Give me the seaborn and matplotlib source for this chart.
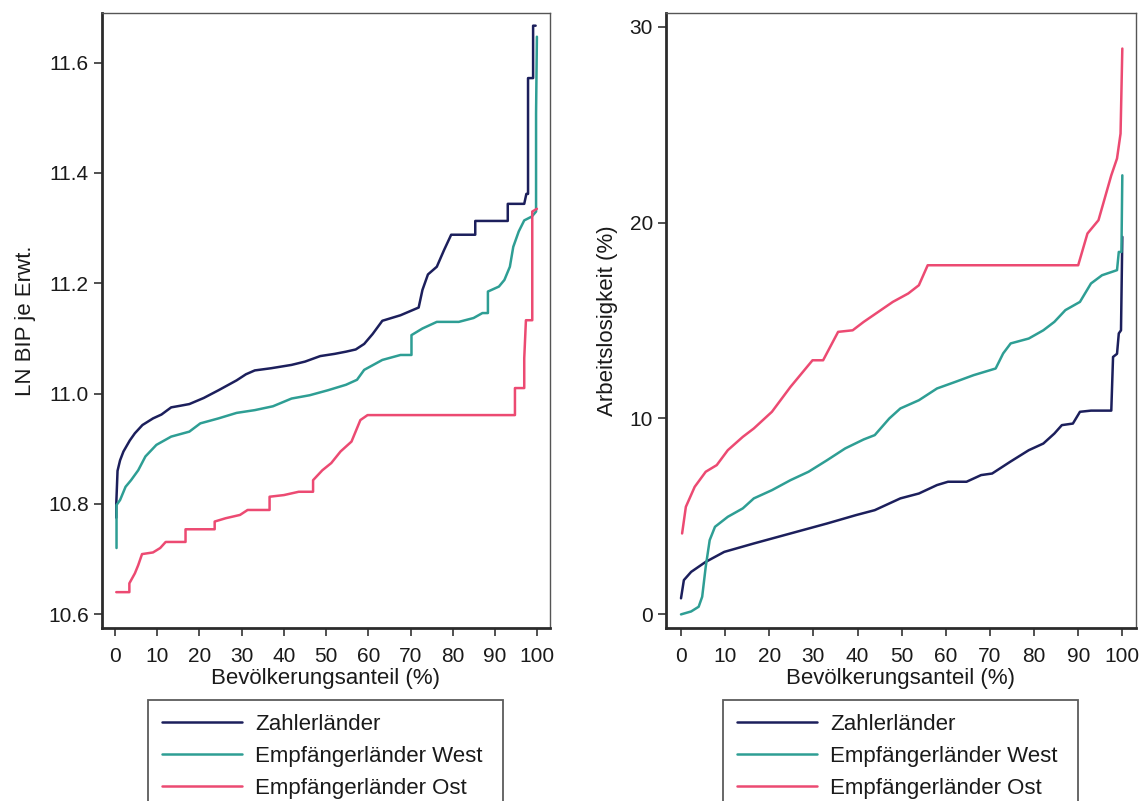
import numpy as np
import pandas as pd
import matplotlib
matplotlib.use("Agg")
import matplotlib.pyplot as plt
from matplotlib.lines import Line2D
import seaborn as sns

# ---------------- data ----------------
groups = ["Zahlerländer", "Empfängerländer West", "Empfängerländer Ost"]
colors = ["#1c1f5c", "#2e9e94", "#ec4a72"]

# Left panel: LN BIP je Erwt.
gdp_zahler_x = [0.3, 0.3, 0.6, 1.2, 2.0, 3.5, 4.7, 6.5, 9.0, 11.0, 13.3, 15.5, 17.6, 21.0, 24.5,
                28.8, 31.0, 33.1, 37.0, 41.8, 45.0, 48.6, 52.0, 54.7, 57.0, 59.0, 61.0, 63.3, 67.6, 71.9,
                72.8, 74.1, 76.2, 77.9, 79.6, 85.3, 85.3, 93.0, 93.0, 96.9, 97.4, 97.8, 97.8, 99.0, 99.0, 99.6]
gdp_zahler_y = [10.775, 10.80, 10.86, 10.879, 10.895, 10.915, 10.928, 10.943, 10.955, 10.962, 10.975, 10.978,
                10.981, 10.992, 11.006, 11.024, 11.035, 11.042, 11.046, 11.052, 11.058, 11.068, 11.072, 11.076,
                11.08, 11.09, 11.108, 11.132, 11.142, 11.156, 11.188, 11.216, 11.23, 11.26, 11.288, 11.288,
                11.313, 11.313, 11.344, 11.344, 11.362, 11.362, 11.572, 11.572, 11.667, 11.667]

gdp_west_x = [0.36, 0.36, 1.2, 2.5, 3.8, 5.5, 7.2, 9.8, 13.3, 17.6, 20.2, 24.5, 28.8, 33.1, 37.4,
              41.8, 46.1, 50.4, 54.7, 57.3, 59.0, 63.3, 67.6, 70.2, 70.2, 72.8, 76.2, 81.4, 84.9, 87.0,
              88.3, 88.3, 90.9, 92.2, 93.5, 94.3, 95.6, 96.9, 98.7, 99.7, 99.7, 99.9]
gdp_west_y = [10.72, 10.798, 10.807, 10.831, 10.843, 10.861, 10.886, 10.907, 10.922, 10.931, 10.946, 10.955,
              10.965, 10.97, 10.977, 10.991, 10.997, 11.006, 11.016, 11.025, 11.043, 11.061, 11.07, 11.07,
              11.106, 11.118, 11.13, 11.13, 11.137, 11.146, 11.146, 11.185, 11.194, 11.206, 11.23, 11.266,
              11.294, 11.314, 11.321, 11.33, 11.508, 11.647]

gdp_ost_x = [0.3, 3.4, 3.4, 4.7, 5.5, 6.4, 9.0, 10.7, 12.0, 16.7, 16.7, 23.6, 23.6, 26.2, 29.6,
             31.4, 36.6, 36.6, 40.0, 43.5, 46.9, 46.9, 49.1, 51.2, 53.4, 56.0, 58.1, 59.8, 94.7, 94.7,
             96.9, 96.9, 97.3, 98.8, 98.8, 99.9]
gdp_ost_y = [10.64, 10.64, 10.656, 10.674, 10.689, 10.709, 10.712, 10.72, 10.731, 10.731, 10.754, 10.754,
             10.768, 10.774, 10.78, 10.789, 10.789, 10.813, 10.816, 10.822, 10.822, 10.843, 10.861, 10.874,
             10.895, 10.913, 10.952, 10.961, 10.961, 11.01, 11.01, 11.064, 11.133, 11.133, 11.33, 11.335]

# Right panel: Arbeitslosigkeit (%)
ue_zahler_x = [0.0, 0.65, 2.3, 5.6, 9.8, 16.5, 24.8, 33.1, 39.7, 43.9, 49.7, 53.9, 58.0, 60.5, 64.7,
               68.0, 70.5, 74.6, 78.8, 82.1, 84.6, 86.3, 88.8, 90.4, 92.9, 97.5, 97.9, 98.8, 99.2, 99.7, 100.0]
ue_zahler_y = [0.82, 1.75, 2.17, 2.68, 3.19, 3.62, 4.13, 4.64, 5.07, 5.32, 5.92, 6.17, 6.60, 6.77, 6.77,
               7.11, 7.19, 7.79, 8.38, 8.72, 9.23, 9.66, 9.74, 10.34, 10.4, 10.4, 13.14, 13.3, 14.34, 14.5, 19.27]

ue_west_x = [0.0, 2.3, 4.0, 4.8, 5.6, 6.5, 7.7, 10.6, 14.0, 16.5, 20.6, 24.8, 28.9, 33.1, 37.2,
             41.4, 43.9, 47.2, 49.7, 53.9, 58.0, 62.2, 66.3, 71.3, 73.0, 74.7, 78.8, 82.1, 84.6, 87.1,
             90.4, 92.9, 95.4, 98.8, 99.2, 99.8, 100.0]
ue_west_y = [0.0, 0.15, 0.39, 0.9, 2.43, 3.79, 4.47, 4.98, 5.41, 5.92, 6.34, 6.85, 7.28, 7.87, 8.47,
             8.93, 9.15, 10.0, 10.51, 10.93, 11.53, 11.87, 12.21, 12.55, 13.32, 13.83, 14.08, 14.5, 14.93,
             15.53, 15.95, 16.89, 17.31, 17.57, 18.5, 18.5, 22.41]

ue_ost_x = [0.25, 1.1, 3.1, 5.6, 8.1, 10.6, 14.0, 16.5, 20.6, 24.8, 29.8, 32.2, 35.6, 38.9, 41.4,
            44.7, 48.0, 51.5, 53.9, 55.9, 90.0, 92.1, 94.6, 97.5, 98.8, 99.6, 100.0]
ue_ost_y = [4.13, 5.49, 6.51, 7.28, 7.62, 8.38, 9.06, 9.49, 10.34, 11.61, 12.97, 12.97, 14.42, 14.5, 14.93,
            15.44, 15.95, 16.38, 16.8, 17.82, 17.82, 19.44, 20.12, 22.41, 23.27, 24.54, 28.88]

x_ticks = [0, 10, 20, 30, 40, 50, 60, 70, 80, 90, 100]
gdp_ticks = [10.6, 10.8, 11.0, 11.2, 11.4, 11.6]
ue_ticks = [0, 10, 20, 30]
x_label = "Bevölkerungsanteil (%)"
gdp_label = "LN BIP je Erwt."
ue_label = "Arbeitslosigkeit (%)"


def long_frame(xs, ys):
    parts = []
    for g, x, y in zip(groups, xs, ys):
        parts.append(pd.DataFrame({"share": x, "value": y, "group": g}))
    return pd.concat(parts, ignore_index=True)


df_gdp = long_frame([gdp_zahler_x, gdp_west_x, gdp_ost_x], [gdp_zahler_y, gdp_west_y, gdp_ost_y])
df_ue = long_frame([ue_zahler_x, ue_west_x, ue_ost_x], [ue_zahler_y, ue_west_y, ue_ost_y])

# ---------------- style ----------------
sns.set_theme(style="ticks")
plt.rcParams["font.family"] = ["Liberation Sans", "DejaVu Sans"]
TXT = "#1a1a1a"
plt.rcParams["text.color"] = TXT
plt.rcParams["axes.labelcolor"] = TXT
plt.rcParams["xtick.color"] = "#333333"
plt.rcParams["ytick.color"] = "#333333"
plt.rcParams["xtick.labelcolor"] = TXT
plt.rcParams["ytick.labelcolor"] = TXT
FS = 16
FS_TICK = 15

W, H = 1145, 801
fig = plt.figure(figsize=(W / 100, H / 100), dpi=100)
fig.patch.set_facecolor("white")

ax1 = fig.add_axes([101.7 / W, 1 - 628 / H, (550 - 101.7) / W, (628 - 13) / H])
ax2 = fig.add_axes([666 / W, 1 - 628.3 / H, (1136 - 666) / W, (628.3 - 12.7) / H])

palette = dict(zip(groups, colors))
for ax, df in [(ax1, df_gdp), (ax2, df_ue)]:
    sns.lineplot(data=df, x="share", y="value", hue="group", palette=palette,
                 estimator=None, sort=False, legend=False, lw=1.8, ax=ax)

ax1.set_xlim(-3.15, 103.0)
ax1.set_ylim(10.575, 11.69)
ax1.set_yticks(gdp_ticks)
ax1.set_yticklabels([f"{t:.1f}" for t in gdp_ticks])
ax1.set_ylabel(gdp_label, fontsize=FS)

ax2.set_xlim(-3.4, 103.1)
ax2.set_ylim(-0.71, 30.71)
ax2.set_yticks(ue_ticks)
ax2.set_yticklabels([str(t) for t in ue_ticks])
ax2.set_ylabel(ue_label, fontsize=FS)

for ax, lx in [(ax1, 25.5), (ax2, 607)]:
    pos = ax.get_position()
    ax.yaxis.set_label_coords(lx / W, (pos.y0 + pos.y1) / 2, transform=fig.transFigure)
    ax.yaxis.label.set_verticalalignment("center")

for ax in (ax1, ax2):
    ax.set_xticks(x_ticks)
    ax.set_xticklabels([str(t) for t in x_ticks])
    ax.set_xlabel(x_label, fontsize=FS, labelpad=1)
    ax.tick_params(axis="both", labelsize=FS_TICK, direction="out", length=5.8, width=1.2)
    ax.tick_params(axis="x", pad=8.0)
    ax.tick_params(axis="y", pad=3.5)
    ax.set_facecolor("white")
    for side in ["left", "bottom"]:
        ax.spines[side].set_visible(True)
        ax.spines[side].set_linewidth(2.0)
        ax.spines[side].set_color("#2b2b2b")
    for side in ["top", "right"]:
        ax.spines[side].set_visible(True)
        ax.spines[side].set_linewidth(1.0)
        ax.spines[side].set_color("#555555")

handles = [Line2D([0], [0], color=c, lw=1.8) for c in colors]
for (lx0, lx1) in [(148.3, 502.7), (723.3, 1078.3)]:
    leg = fig.legend(handles, groups, loc="upper left",
                     bbox_to_anchor=(lx0 / W, 0, (lx1 - lx0) / W, 1 - 700 / H),
                     bbox_transform=fig.transFigure, mode="expand",
                     fontsize=FS, frameon=True, fancybox=False, borderpad=0.62,
                     handlelength=3.6, handletextpad=0.6,
                     labelspacing=0.5, borderaxespad=0)
    leg.get_frame().set_edgecolor("#333333")
    leg.get_frame().set_linewidth(1.3)

fig.savefig("out.png", dpi=100, facecolor="white")
